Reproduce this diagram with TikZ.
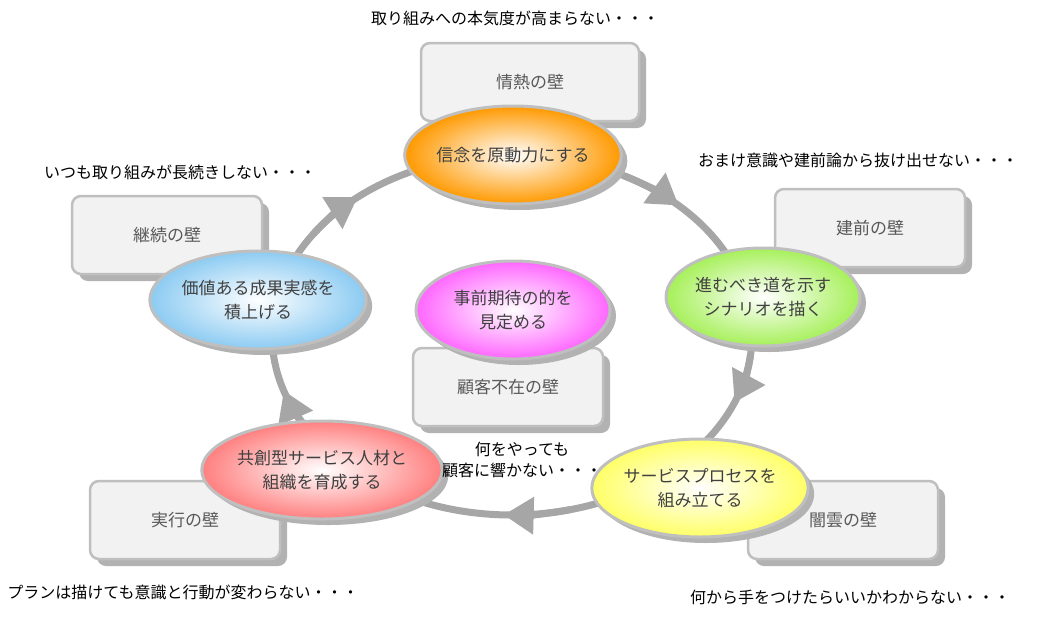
\documentclass[tikz,border=0pt]{standalone}
\usepackage{fontspec}
\setmainfont{Noto Sans CJK JP}
\usetikzlibrary{arrows.meta,shadows,shapes.geometric}
\definecolor{lblue}{HTML}{8CCBF2}
\definecolor{lgreen}{HTML}{A6F05A}
\begin{document}
\begin{tikzpicture}[x=1pt,y=-1pt,
 wall/.style={draw=black!25,line width=2.5pt,fill=black!5,rounded corners=9pt,minimum width=190pt,minimum height=78pt,text=black!65,font=\fontsize{17}{20}\selectfont,
   drop shadow={shadow xshift=7pt,shadow yshift=-7pt,fill=black!30,opacity=1}},
 bub/.style={ellipse,draw=black!25,line width=3pt,inner sep=0pt,minimum width=194pt,minimum height=98pt,inner color=white,outer color=#1,text=black!75,align=center,font=\fontsize{17}{24}\selectfont,
   drop shadow={shadow xshift=6pt,shadow yshift=-6pt,fill=black!30,opacity=1}},
 ring/.style={draw=black!35,line width=7pt},
 tip/.style={ring,-{Triangle[length=30pt,width=36pt]}},
 lab/.style={font=\fontsize{16}{21}\selectfont,align=center}]
\useasboundingbox[fill=white] (0,0) rectangle (1040,616);
\node[wall,minimum width=218pt] (w1) at (530,82) {情熱の壁};
\node[wall] (w2) at (870,228) {建前の壁};
\node[wall] (w3) at (843,520) {闇雲の壁};
\node[wall] (w4) at (185,520) {実行の壁};
\node[wall] (w5) at (167,235) {継続の壁};
\node[wall] (w6) at (508,387) {顧客不在の壁};
\coordinate (c) at (512,335);
\draw[ring] (c) ellipse[x radius=240,y radius=180];
\foreach \t in {-46,22,92,162,230}{
 \draw[tip] ([shift={(\t-16:240 and 180)}]c) arc[start angle=\t-16,end angle=\t,x radius=240,y radius=180];}
\node[bub=orange!80!yellow] (e1) at (513,155) {信念を原動力にする};
\node[bub=lgreen] (e2) at (763,297) {進むべき道を示す\\シナリオを描く};
\node[bub=yellow!60] (e3) at (700,488) {サービスプロセスを\\組み立てる};
\node[bub=red!50] (e4) at (322,470) {共創型サービス人材と\\組織を育成する};
\node[bub=lblue] (e5) at (258,300) {価値ある成果実感を\\積上げる};
\node[bub=magenta!60] (e6) at (513,310) {事前期待の的を\\見定める};
\node[lab] (t1) at (515,18) {取り組みへの本気度が高まらない・・・};
\node[lab] (t2) at (858,160) {おまけ意識や建前論から抜け出せない・・・};
\node[lab] (t3) at (180,172) {いつも取り組みが長続きしない・・・};
\node[lab] (t4) at (522,460) {何をやっても\\顧客に響かない・・・};
\node[lab] (t5) at (183,592) {プランは描けても意識と行動が変わらない・・・};
\node[lab] (t6) at (850,597) {何から手をつけたらいいかわからない・・・};
\end{tikzpicture}
\end{document}
